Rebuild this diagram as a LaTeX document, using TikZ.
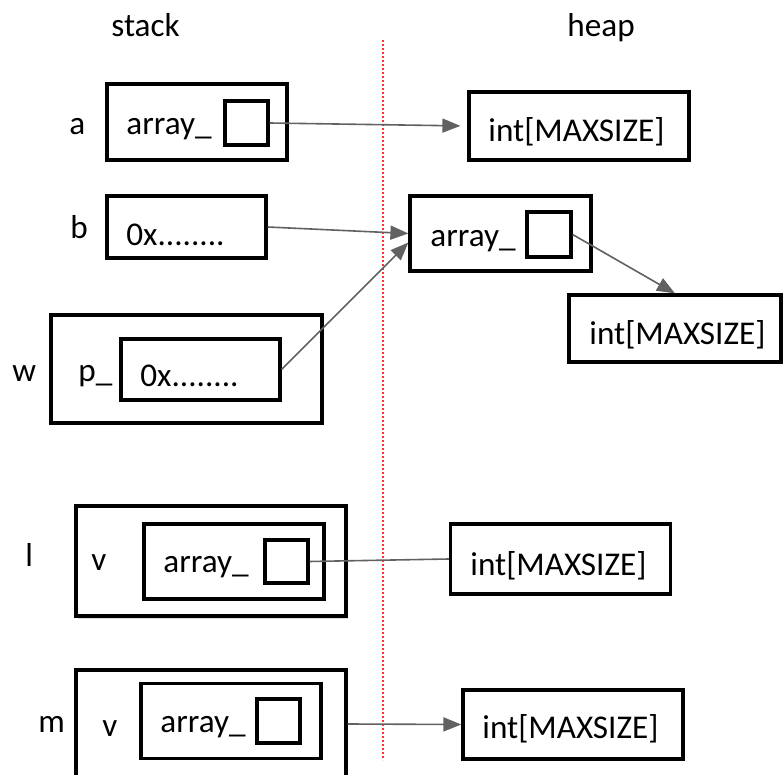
\documentclass[tikz,border=0pt]{standalone}
\usepackage{fontspec}
\setmainfont{Carlito}
\usetikzlibrary{arrows.meta,shadows}

\begin{document}
\begin{tikzpicture}[x=0.5pt,y=-0.5pt,>={Triangle[length=9pt,width=7pt]},
    every node/.style={font=\fontsize{16.6}{20}\selectfont},
    cell/.style={draw,line width=1.6pt,inner sep=0pt},
    txt/.style={inner sep=0pt,anchor=base west},
    ptr/.style={color=black!62,line width=0.8pt}]
    \useasboundingbox (0,0) rectangle (783,775);
    \clip (0,0) rectangle (783,775);

    % stack | heap divider
    \coordinate (divtop) at (383,40);
    \coordinate (divbot) at (383,760);
    \draw[red!80,line width=0.7pt,dash pattern=on 0.8pt off 1.2pt] (divtop) -- (divbot);
    \node[txt] (stack) at (111,37) {stack};
    \node[txt] (heap) at (567,37) {heap};

    % a
    \node[txt] (la) at (69,135) {a};
    \node[cell,minimum width=90pt,minimum height=38pt] (boxa) at (197,122) {};
    \node[txt] (arra) at (126,135) {array\_};
    \node[cell,minimum width=21.5pt,minimum height=22pt] (sqa) at (246.5,123) {};
    \node[cell,minimum width=110pt,minimum height=34pt] (inta) at (579,126) {};
    \node[txt] (tinta) at (488,142) {int[MAXSIZE]};

    % b and w
    \node[txt] (lb) at (70,239) {b};
    \node[cell,minimum width=79.5pt,minimum height=31pt] (boxb) at (186.5,227) {};
    \node[txt] (ptrb) at (126,246) {0x........};
    \node[txt] (lw) at (12,382) {w};
    \node[cell,minimum width=135.5pt,minimum height=54pt] (boxw) at (186.5,369) {};
    \node[txt] (pw) at (78,382) {p\_};
    \node[cell,minimum width=79.5pt,minimum height=30.5pt] (inw) at (200.5,369.5) {};
    \node[txt] (ptrw) at (140,387) {0x........};

    % shared array on the heap
    \node[cell,minimum width=90.5pt,minimum height=37.5pt] (harr) at (500.5,233.5) {};
    \node[txt] (tharr) at (430,247) {array\_};
    \node[cell,minimum width=22pt,minimum height=22.5pt] (hsq) at (549,234.5) {};
    \node[cell,minimum width=106pt,minimum height=33.5pt] (intb) at (675,328.5) {};
    \node[txt] (tintb) at (589,345) {int[MAXSIZE]};

    % l
    \node[txt] (ll) at (25,567) {l};
    \node[cell,fill=white,minimum width=135pt,minimum height=55pt,
          drop shadow={shadow xshift=0.8pt,shadow yshift=-1.5pt,opacity=0.25}] (boxl) at (211,561) {};
    \node[txt] (vl) at (91,571) {v};
    \node[cell,minimum width=90pt,minimum height=37.5pt] (inl) at (234,561.5) {};
    \node[txt] (arrl) at (163,573) {array\_};
    \node[cell,minimum width=21.5pt,minimum height=21.5pt] (sql) at (286.5,561.5) {};
    \node[cell,minimum width=110pt,minimum height=35pt] (intl) at (560.5,559) {};
    \node[txt] (tintl) at (470,575) {int[MAXSIZE]};

    % m
    \node[txt] (lm) at (38,733) {m};
    \node[cell,minimum width=135pt,minimum height=54pt] (boxm) at (211,724) {};
    \node[txt] (vm) at (102,736) {v};
    \node[cell,minimum width=90pt,minimum height=37.5pt] (inm) at (231,721) {};
    \node[txt] (arrm) at (160,733) {array\_};
    \node[cell,minimum width=21.5pt,minimum height=22pt] (sqm) at (278.5,721) {};
    \node[cell,minimum width=110pt,minimum height=34.5pt] (intm) at (573,724.5) {};
    \node[txt] (tintm) at (482,738) {int[MAXSIZE]};

    \path[->,ptr]
    (sqa.east) edge [shorten >=3.5pt] (inta.west)
    (boxb.east) edge (harr.west)
    (inw.east) edge ([yshift=-4.5pt]harr.west)
    (hsq.east) edge (intb.north)
    (boxm.east) edge (intm.west);
    \draw[ptr] (sql.east) -- (intl.west);
\end{tikzpicture}
\end{document}
